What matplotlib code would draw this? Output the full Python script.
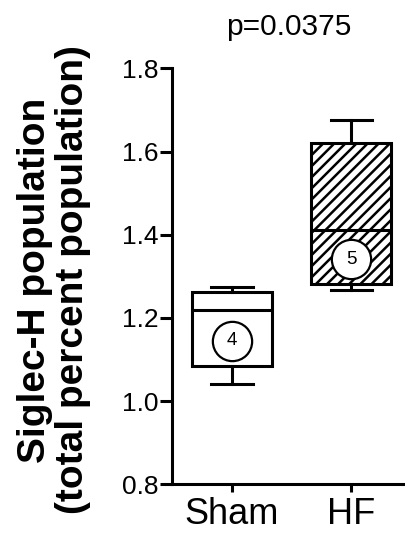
import matplotlib
matplotlib.use("Agg")
import matplotlib.pyplot as plt

plt.rcParams['font.family'] = ['Liberation Sans', 'DejaVu Sans']
plt.rcParams['hatch.linewidth'] = 1.8

# Datos
groups = ["Sham", "HF"]
whisker_low = [1.041, 1.267]
box_low = [1.085, 1.281]
medians = [1.219, 1.411]
box_high = [1.263, 1.621]
whisker_high = [1.274, 1.675]
n_labels = ["4", "5"]
n_label_y = [1.145, 1.341]
hatches = [None, "///"]
p_text = "p=0.0375"

fig = plt.figure(figsize=(4.06, 5.34), dpi=100)
ax = fig.add_axes([172 / 406, 1 - 484.3 / 534, 1 - 172 / 406, (484.3 - 68.3) / 534])

stats = []
for i in range(len(groups)):
    stats.append({
        "whislo": whisker_low[i], "q1": box_low[i], "med": medians[i],
        "q3": box_high[i], "whishi": whisker_high[i], "fliers": [],
    })

lw = 2.2
bp = ax.bxp(stats, positions=range(len(groups)), widths=0.67, capwidths=0.345,
            patch_artist=True, showfliers=False,
            boxprops=dict(linewidth=lw, edgecolor="black", facecolor="white"),
            medianprops=dict(linewidth=lw, color="black"),
            whiskerprops=dict(linewidth=lw, color="black"),
            capprops=dict(linewidth=lw, color="black"))
for box, h in zip(bp["boxes"], hatches):
    if h:
        box.set_hatch(h)

# Círculos con el número de animales
ax.scatter(range(len(groups)), n_label_y, s=800, facecolor="white",
           edgecolor="black", linewidth=1.6, zorder=5)
for i, lab in enumerate(n_labels):
    ax.text(i, n_label_y[i], lab, ha="center", va="center", fontsize=13.5, zorder=6)

ax.set_xlim(-0.504, 1.46)
ax.set_ylim(0.8, 1.8)
ax.set_yticks([0.8, 1.0, 1.2, 1.4, 1.6, 1.8])
ax.set_yticklabels(["0.8", "1.0", "1.2", "1.4", "1.6", "1.8"])
ax.set_xticks(range(len(groups)))
ax.set_xticklabels(groups)
ax.spines["top"].set_visible(False)
ax.spines["right"].set_visible(False)
ax.spines["left"].set_linewidth(lw)
ax.spines["bottom"].set_linewidth(lw)
ax.tick_params(axis="y", length=8.5, width=lw, pad=1, labelsize=19)
ax.tick_params(axis="x", length=6, width=lw, pad=3, labelsize=26)

fig.text(289 / 406, 1 - 35 / 534, p_text, ha="center", va="baseline", fontsize=21.5)
fig.text(54 / 406, 1 - 280 / 534, "Siglec-H population\n(total percent population)",
         rotation=90, ha="center", va="center", multialignment="center",
         fontsize=28, fontweight="bold", linespacing=1.1)

fig.savefig("out.png", dpi=100)
